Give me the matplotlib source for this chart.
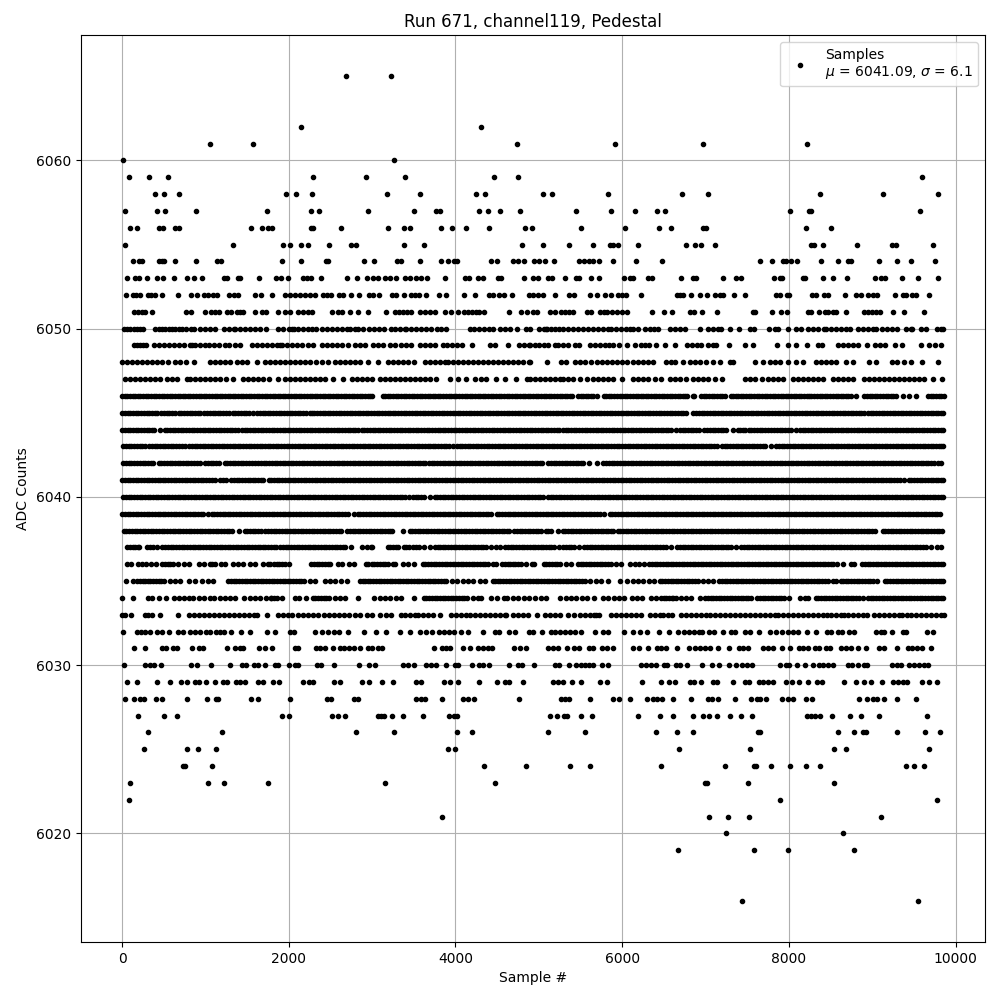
import matplotlib
matplotlib.use("Agg")
import matplotlib.pyplot as plt

adc_6065 = [2690, 3228]
adc_6062 = [2150, 4305]
adc_6061 = [1050, 1576, 4736, 5916, 6970, 8214]
adc_6060 = [8, 3264]
adc_6059 = [80, 320, 547, 2294, 2929, 3395, 4461, 4750, 9603]
adc_6058 = [391, 499, 678, 1971, 2091, 2282, 3180, 3575, 4245, 4353, 5054, 5162, 5832, 6718, 7029, 8370, 9124, 9794]
adc_6057 = [32, 415, 511, 882, 1744, 2270, 2358, 2953, 3503, 3766, 3814, 4281, 4389, 4533, 4772, 5449, 5868, 6156, 6419, 6515, 8011, 8238, 8270, 9579]
adc_6056 = [92, 176, 439, 487, 638, 686, 1552, 1684, 1756, 1803, 2270, 2294, 2629, 3196, 3384, 3455, 3826, 3958, 4126, 4401, 4832, 4923, 5509, 6036, 6443, 6587, 6970, 7005, 8202, 8502]
adc_6055 = [32, 1325, 1935, 2019, 2150, 2234, 2486, 2749, 2809, 3384, 3623, 4796, 5054, 5366, 5653, 5856, 5892, 5952, 6192, 6766, 6874, 6946, 7113, 8262, 8298, 8406, 8813, 9232, 9280, 9735]
adc_6054 = [128, 200, 243, 439, 475, 499, 630, 882, 1133, 1181, 1923, 2150, 2450, 2475, 2905, 3024, 3300, 3348, 3575, 3826, 3910, 3982, 4018, 4425, 4497, 4688, 4748, 4820, 4947, 5006, 5078, 5186, 5485, 5545, 5600, 5653, 5725, 5892, 6168, 6479, 7652, 7796, 7925, 7960, 8023, 8095, 8390, 8585, 8710, 8750, 9076, 9292, 9471, 9758]
adc_6053 = [56, 152, 200, 295, 415, 487, 618, 774, 858, 954, 1217, 1253, 1385, 1410, 1648, 1851, 1911, 1995, 2175, 2222, 2270, 2382, 2701, 2821, 2941, 3012, 3072, 3156, 3216, 3288, 3395, 3455, 3527, 3587, 3659, 3874, 4114, 4162, 4269, 4329, 4509, 4545, 4820, 4935, 4995, 5114, 5162, 5318, 5449, 5485, 5629, 5725, 6024, 6096, 6132, 6311, 6359, 6706, 6850, 6886, 7209, 7365, 7425, 7820, 7892, 7915, 8167, 8191, 8406, 8526, 8693, 9028, 9100, 9148, 9352, 9555, 9794]
adc_6052 = [44, 128, 165, 211, 307, 343, 391, 475, 666, 822, 894, 978, 1025, 1085, 1133, 1277, 1337, 1385, 1600, 1672, 1803, 1959, 2019, 2079, 2139, 2199, 2258, 2318, 2414, 2462, 2510, 2605, 2653, 2749, 2845, 2965, 3012, 3084, 3240, 3288, 3384, 3467, 3515, 3563, 3647, 3802, 3886, 4098, 4233, 4401, 4449, 4521, 4581, 4677, 4880, 4935, 4995, 5054, 5198, 5366, 5425, 5617, 5701, 5797, 5868, 5952, 6000, 6048, 6227, 6658, 6694, 6730, 6826, 6934, 7018, 7113, 7173, 7209, 7341, 7472, 7844, 7892, 7975, 8000, 8274, 8322, 8418, 8466, 8669, 8801, 8861, 8945, 9005, 9052, 9268, 9364, 9400, 9483, 9531, 9687]
adc_6051 = [140, 188, 235, 271, 355, 762, 822, 989, 1061, 1109, 1157, 1253, 1301, 1373, 1420, 1456, 1600, 1684, 1728, 1875, 1959, 2019, 2115, 2175, 2234, 2282, 2522, 2593, 2641, 2737, 2833, 2953, 3168, 3276, 3324, 3372, 3420, 3467, 3575, 3635, 3695, 3755, 3874, 3946, 4030, 4102, 4150, 4198, 4245, 4281, 4341, 4641, 4784, 4856, 4935, 4983, 5138, 5198, 5270, 5318, 5366, 5413, 5581, 5629, 5737, 5785, 5820, 5880, 5940, 6000, 6060, 6359, 6503, 6599, 6814, 6862, 6958, 7137, 7568, 7592, 7796, 7903, 7975, 8226, 8262, 8358, 8430, 8466, 8526, 8562, 8681, 8897, 8945, 8993, 9040, 9088, 9244, 9376, 9627]
adc_6050 = [20, 60, 100, 140, 180, 220, 250, 400, 440, 480, 520, 560, 600, 640, 680, 720, 770, 830, 860, 930, 990, 1050, 1117, 1217, 1280, 1340, 1360, 1420, 1480, 1540, 1600, 1655, 1724, 1875, 1930, 2000, 2035, 2060, 2110, 2170, 2230, 2275, 2330, 2400, 2460, 2520, 2580, 2640, 2693, 2735, 2790, 2830, 2893, 2960, 3020, 3080, 3140, 3230, 3272, 3330, 3395, 3410, 3470, 3530, 3590, 3650, 3710, 3775, 3830, 3890, 4170, 4220, 4280, 4340, 4400, 4450, 4530, 4600, 4650, 4736, 4850, 4895, 5000, 5060, 5080, 5100, 5150, 5190, 5240, 5290, 5350, 5410, 5470, 5530, 5590, 5650, 5710, 5770, 5830, 5870, 5920, 5980, 6040, 6090, 6130, 6190, 6270, 6330, 6380, 6430, 6570, 6630, 6690, 6750, 6930, 7030, 7090, 7150, 7190, 7290, 7400, 7530, 7580, 7760, 7830, 7870, 7990, 8090, 8150, 8230, 8290, 8350, 8420, 8450, 8510, 8570, 8630, 8690, 8730, 8830, 8890, 8950, 9010, 9040, 9120, 9180, 9240, 9300, 9400, 9460, 9480, 9580, 9640, 9780, 9820, 9845]
adc_6049 = [140, 180, 220, 250, 288, 380, 440, 500, 560, 620, 680, 740, 810, 840, 880, 940, 1000, 1040, 1100, 1160, 1240, 1277, 1349, 1409, 1560, 1620, 1680, 1740, 1800, 1860, 1900, 1915, 1975, 2035, 2095, 2155, 2235, 2294, 2400, 2460, 2520, 2580, 2640, 2710, 2790, 2850, 2910, 3010, 3070, 3132, 3212, 3270, 3350, 3410, 3470, 3570, 3630, 3690, 3750, 3850, 3898, 3958, 4018, 4078, 4198, 4417, 4477, 4629, 4760, 4820, 4880, 4895, 4950, 5000, 5060, 5110, 5190, 5230, 5290, 5350, 5430, 5480, 5613, 5673, 5733, 5793, 5840, 5892, 5964, 6052, 6150, 6230, 6275, 6323, 6410, 6515, 6630, 6780, 6840, 6900, 6950, 7030, 7090, 7120, 7280, 7470, 7570, 7855, 7987, 8087, 8214, 8346, 8398, 8590, 8650, 8710, 8770, 8830, 8940, 9030, 9090, 9150, 9270, 9360, 9587, 9680, 9750, 9820]
adc_6048 = [0, 60, 120, 180, 240, 300, 360, 420, 480, 550, 630, 700, 770, 860, 1060, 1120, 1180, 1240, 1300, 1380, 1440, 1500, 1620, 1720, 1780, 1840, 1900, 1960, 2020, 2080, 2140, 2200, 2260, 2330, 2400, 2470, 2555, 2620, 2680, 2740, 2800, 2860, 2950, 3070, 3190, 3250, 3310, 3370, 3430, 3500, 3630, 3690, 3750, 3810, 3870, 3910, 3970, 4030, 4090, 4150, 4210, 4270, 4330, 4390, 4450, 4510, 4570, 4630, 4690, 4750, 4810, 4880, 4895, 5095, 5260, 5325, 5430, 5490, 5550, 5620, 5700, 5760, 5820, 5880, 5940, 6000, 6060, 6132, 6190, 6250, 6310, 6370, 6520, 6580, 6630, 6730, 6810, 6870, 6930, 7005, 7090, 7170, 7290, 7330, 7596, 7690, 7770, 7830, 7890, 7990, 8090, 8170, 8330, 8390, 8450, 8510, 8570, 8690, 8770, 8960, 9040, 9240, 9300, 9380, 9460, 9600, 9785]
adc_6047 = [40, 100, 160, 220, 280, 340, 400, 460, 540, 600, 660, 780, 820, 880, 940, 1000, 1060, 1120, 1180, 1250, 1330, 1456, 1516, 1576, 1636, 1696, 1760, 1876, 1955, 2015, 2075, 2135, 2195, 2255, 2315, 2375, 2435, 2534, 2653, 2753, 2813, 2873, 2933, 2993, 3092, 3152, 3212, 3272, 3332, 3392, 3452, 3512, 3572, 3632, 3695, 3770, 3930, 4030, 4130, 4230, 4310, 4370, 4490, 4590, 4725, 4860, 4895, 4955, 5015, 5075, 5135, 5195, 5255, 5294, 5354, 5414, 5494, 5573, 5653, 5713, 5773, 5833, 5893, 6000, 6132, 6192, 6252, 6312, 6391, 6471, 6571, 6631, 6691, 6771, 6850, 6910, 6970, 7030, 7110, 7202, 7472, 7532, 7592, 7672, 7748, 7808, 7868, 7928, 8047, 8107, 8167, 8227, 8287, 8347, 8407, 8527, 8587, 8647, 8707, 8773, 8897, 8957, 9017, 9077, 9137, 9197, 9257, 9317, 9377, 9437, 9497, 9557, 9627, 9735, 9842]
adc_6046 = [0, 60, 125, 190, 250, 315, 380, 440, 505, 570, 630, 695, 760, 820, 885, 950, 1010, 1075, 1140, 1200, 1265, 1330, 1390, 1455, 1520, 1580, 1645, 1710, 1770, 1835, 1900, 1960, 2025, 2090, 2150, 2215, 2280, 2340, 2405, 2470, 2530, 2595, 2660, 2720, 2785, 2850, 2910, 2975, 3000, 3125, 3190, 3250, 3315, 3380, 3440, 3505, 3570, 3630, 3695, 3760, 3820, 3885, 3950, 4010, 4075, 4140, 4200, 4265, 4330, 4390, 4455, 4520, 4580, 4645, 4710, 4770, 4835, 4900, 4960, 5025, 5090, 5150, 5215, 5280, 5340, 5395, 5470, 5530, 5590, 5650, 5700, 5780, 5840, 5905, 5970, 6030, 6095, 6160, 6220, 6285, 6350, 6410, 6475, 6540, 6600, 6665, 6730, 6775, 6845, 6860, 6950, 7010, 7075, 7140, 7200, 7235, 7300, 7360, 7425, 7490, 7550, 7615, 7680, 7740, 7805, 7870, 7930, 7995, 8060, 8120, 8185, 8240, 8305, 8370, 8430, 8495, 8560, 8620, 8685, 8750, 8800, 8905, 8970, 9030, 9095, 9160, 9220, 9285, 9364, 9443, 9523, 9675, 9735, 9800, 9860]
adc_6045 = [0, 65, 130, 195, 260, 325, 390, 420, 470, 535, 600, 640, 680, 745, 810, 875, 940, 985, 1050, 1115, 1180, 1245, 1285, 1330, 1395, 1460, 1525, 1575, 1620, 1685, 1750, 1815, 1880, 1945, 2010, 2075, 2140, 2205, 2250, 2275, 2340, 2405, 2470, 2535, 2600, 2665, 2730, 2795, 2860, 2925, 2990, 3055, 3120, 3185, 3250, 3315, 3380, 3445, 3510, 3575, 3640, 3705, 3770, 3835, 3900, 3965, 4030, 4095, 4160, 4225, 4290, 4355, 4420, 4485, 4550, 4615, 4680, 4745, 4810, 4875, 4940, 5005, 5070, 5135, 5200, 5265, 5330, 5395, 5460, 5525, 5590, 5655, 5720, 5785, 5850, 5915, 5980, 6045, 6110, 6175, 6240, 6305, 6370, 6400, 6440, 6505, 6570, 6635, 6700, 6765, 6845, 6890, 6955, 7020, 7085, 7150, 7215, 7245, 7280, 7345, 7410, 7475, 7540, 7605, 7670, 7735, 7800, 7865, 7930, 7995, 8060, 8125, 8190, 8255, 8320, 8385, 8450, 8515, 8580, 8645, 8710, 8775, 8840, 8900, 8950, 9015, 9080, 9145, 9210, 9275, 9340, 9405, 9470, 9535, 9600, 9665, 9730, 9795, 9855]
adc_6044 = [0, 65, 130, 195, 260, 325, 385, 455, 510, 575, 640, 705, 770, 835, 900, 965, 1030, 1095, 1160, 1225, 1290, 1355, 1385, 1435, 1500, 1565, 1630, 1695, 1760, 1825, 1890, 1955, 2020, 2085, 2150, 2215, 2280, 2345, 2410, 2475, 2540, 2605, 2670, 2735, 2800, 2825, 2875, 2940, 3005, 3070, 3135, 3200, 3265, 3330, 3395, 3460, 3525, 3590, 3655, 3720, 3785, 3850, 3915, 3980, 4045, 4110, 4175, 4240, 4305, 4370, 4435, 4500, 4565, 4630, 4695, 4760, 4825, 4890, 4955, 5020, 5085, 5150, 5215, 5240, 5290, 5355, 5420, 5485, 5550, 5615, 5680, 5745, 5810, 5875, 5940, 6005, 6070, 6135, 6200, 6265, 6330, 6395, 6460, 6525, 6590, 6645, 6690, 6755, 6820, 6885, 6925, 6985, 7050, 7115, 7180, 7245, 7335, 7385, 7450, 7475, 7520, 7585, 7650, 7715, 7780, 7825, 7890, 7955, 8020, 8080, 8130, 8195, 8260, 8325, 8390, 8455, 8520, 8585, 8650, 8715, 8780, 8845, 8910, 8975, 9040, 9105, 9170, 9235, 9300, 9365, 9430, 9495, 9560, 9625, 9690, 9755, 9820, 9855]
adc_6043 = [15, 80, 145, 210, 275, 325, 390, 455, 520, 585, 650, 715, 750, 805, 870, 935, 1000, 1065, 1130, 1195, 1260, 1325, 1390, 1455, 1520, 1585, 1650, 1715, 1780, 1845, 1910, 1975, 2040, 2105, 2170, 2235, 2300, 2365, 2430, 2495, 2560, 2625, 2690, 2755, 2820, 2885, 2950, 3015, 3080, 3145, 3210, 3275, 3340, 3405, 3470, 3535, 3600, 3665, 3730, 3795, 3860, 3925, 3965, 4015, 4080, 4145, 4210, 4275, 4340, 4405, 4470, 4535, 4600, 4665, 4730, 4795, 4860, 4925, 4990, 5055, 5120, 5185, 5250, 5315, 5380, 5445, 5510, 5575, 5640, 5705, 5770, 5835, 5900, 5965, 6030, 6095, 6160, 6225, 6290, 6355, 6420, 6485, 6550, 6615, 6680, 6745, 6810, 6875, 6940, 7005, 7070, 7135, 7195, 7260, 7325, 7390, 7455, 7520, 7585, 7650, 7715, 7785, 7850, 7915, 7980, 8045, 8110, 8175, 8240, 8305, 8370, 8435, 8500, 8565, 8630, 8695, 8760, 8825, 8890, 8955, 9020, 9085, 9150, 9215, 9280, 9345, 9410, 9475, 9540, 9605, 9670, 9735, 9800, 9855]
adc_6042 = [15, 80, 145, 210, 280, 310, 375, 440, 505, 570, 635, 700, 765, 830, 895, 940, 1000, 1065, 1130, 1165, 1230, 1295, 1360, 1425, 1490, 1555, 1600, 1665, 1730, 1795, 1860, 1925, 1990, 2055, 2120, 2185, 2250, 2315, 2380, 2445, 2510, 2575, 2600, 2665, 2730, 2795, 2860, 2925, 2990, 3055, 3120, 3185, 3250, 3315, 3380, 3445, 3510, 3575, 3640, 3680, 3745, 3810, 3875, 3940, 4005, 4070, 4135, 4200, 4265, 4330, 4395, 4460, 4525, 4590, 4655, 4720, 4785, 4850, 4915, 4980, 5040, 5105, 5145, 5210, 5275, 5340, 5405, 5470, 5535, 5600, 5700, 5775, 5840, 5905, 5970, 6035, 6100, 6165, 6230, 6295, 6360, 6425, 6490, 6555, 6620, 6685, 6750, 6815, 6880, 6945, 7010, 7075, 7140, 7205, 7270, 7335, 7400, 7465, 7530, 7595, 7660, 7725, 7790, 7855, 7920, 7985, 8050, 8115, 8180, 8245, 8310, 8375, 8440, 8505, 8570, 8635, 8700, 8765, 8830, 8895, 8960, 9025, 9090, 9155, 9220, 9285, 9350, 9415, 9480, 9545, 9610, 9675, 9740, 9790, 9830]
adc_6041 = [0, 65, 130, 195, 260, 325, 390, 455, 520, 585, 650, 715, 780, 845, 910, 975, 1040, 1110, 1180, 1245, 1310, 1375, 1440, 1505, 1570, 1635, 1695, 1760, 1825, 1855, 1920, 1985, 2050, 2115, 2180, 2245, 2310, 2375, 2440, 2505, 2570, 2635, 2700, 2765, 2830, 2895, 2960, 3025, 3090, 3155, 3220, 3285, 3350, 3415, 3480, 3545, 3610, 3675, 3740, 3805, 3870, 3935, 4000, 4065, 4130, 4195, 4260, 4325, 4390, 4455, 4520, 4585, 4650, 4715, 4780, 4845, 4910, 4975, 5040, 5105, 5170, 5235, 5300, 5365, 5430, 5495, 5560, 5625, 5690, 5755, 5820, 5885, 5950, 6015, 6080, 6145, 6210, 6275, 6340, 6405, 6470, 6535, 6600, 6665, 6730, 6795, 6860, 6925, 6990, 7055, 7120, 7185, 7250, 7315, 7380, 7445, 7510, 7575, 7640, 7705, 7770, 7835, 7900, 7965, 8030, 8095, 8160, 8225, 8290, 8355, 8420, 8485, 8550, 8615, 8680, 8745, 8810, 8875, 8940, 9005, 9070, 9135, 9200, 9265, 9330, 9380, 9440, 9505, 9570, 9635, 9700, 9765, 9830, 9855]
adc_6040 = [15, 80, 145, 210, 275, 340, 405, 470, 535, 600, 665, 730, 795, 860, 925, 990, 1055, 1120, 1185, 1250, 1315, 1380, 1445, 1510, 1575, 1640, 1705, 1770, 1835, 1900, 1965, 2030, 2095, 2160, 2225, 2290, 2355, 2420, 2485, 2550, 2615, 2680, 2745, 2810, 2875, 2940, 3005, 3070, 3135, 3200, 3265, 3330, 3395, 3445, 3490, 3555, 3620, 3700, 3750, 3815, 3880, 3945, 4010, 4075, 4140, 4205, 4270, 4335, 4400, 4465, 4530, 4595, 4660, 4725, 4790, 4855, 4920, 4985, 5050, 5110, 5175, 5240, 5305, 5370, 5435, 5500, 5565, 5630, 5695, 5760, 5825, 5890, 5955, 6020, 6085, 6150, 6215, 6280, 6345, 6410, 6475, 6540, 6605, 6670, 6735, 6800, 6865, 6930, 6995, 7060, 7125, 7190, 7255, 7320, 7385, 7450, 7515, 7580, 7645, 7710, 7775, 7840, 7905, 7970, 8035, 8100, 8165, 8230, 8295, 8360, 8425, 8490, 8555, 8620, 8685, 8750, 8815, 8880, 8945, 9010, 9075, 9140, 9205, 9270, 9335, 9400, 9465, 9530, 9595, 9660, 9725, 9790, 9855]
adc_6039 = [0, 65, 130, 195, 260, 325, 390, 455, 520, 585, 650, 715, 780, 845, 910, 975, 1030, 1075, 1140, 1205, 1270, 1335, 1400, 1465, 1530, 1595, 1660, 1690, 1730, 1795, 1860, 1925, 1990, 2055, 2120, 2185, 2250, 2315, 2380, 2445, 2510, 2575, 2640, 2705, 2780, 2830, 2895, 2960, 3025, 3090, 3130, 3195, 3260, 3325, 3390, 3455, 3520, 3585, 3650, 3715, 3780, 3845, 3910, 3975, 4040, 4105, 4170, 4235, 4300, 4365, 4425, 4495, 4560, 4625, 4690, 4755, 4820, 4885, 4950, 5015, 5080, 5145, 5210, 5275, 5340, 5405, 5470, 5535, 5600, 5665, 5730, 5780, 5850, 5915, 5980, 6045, 6110, 6175, 6240, 6305, 6370, 6435, 6500, 6565, 6630, 6695, 6760, 6825, 6890, 6955, 7020, 7085, 7150, 7215, 7280, 7345, 7410, 7475, 7540, 7605, 7670, 7735, 7800, 7865, 7930, 7995, 8060, 8125, 8190, 8255, 8320, 8385, 8450, 8515, 8580, 8645, 8710, 8775, 8840, 8905, 8970, 9035, 9100, 9165, 9230, 9295, 9360, 9425, 9490, 9555, 9620, 9685, 9750, 9815]
adc_6038 = [20, 85, 150, 215, 280, 345, 410, 475, 540, 605, 670, 735, 800, 865, 930, 995, 1060, 1125, 1190, 1255, 1320, 1400, 1470, 1535, 1600, 1665, 1715, 1755, 1820, 1885, 1950, 2015, 2080, 2145, 2210, 2275, 2340, 2405, 2470, 2535, 2600, 2625, 2700, 2765, 2830, 2895, 2960, 3025, 3090, 3155, 3220, 3244, 3372, 3450, 3515, 3580, 3645, 3710, 3775, 3840, 3905, 3970, 4035, 4100, 4165, 4230, 4295, 4360, 4425, 4490, 4555, 4620, 4645, 4705, 4770, 4835, 4900, 4965, 5030, 5080, 5140, 5235, 5285, 5350, 5415, 5480, 5545, 5610, 5675, 5740, 5805, 5870, 5890, 5945, 6010, 6075, 6140, 6205, 6270, 6335, 6400, 6465, 6530, 6595, 6660, 6725, 6790, 6855, 6920, 6985, 7050, 7115, 7180, 7245, 7310, 7375, 7440, 7505, 7570, 7635, 7700, 7765, 7830, 7895, 7960, 8025, 8090, 8155, 8220, 8285, 8350, 8415, 8480, 8545, 8610, 8675, 8740, 8805, 8870, 8935, 9000, 9030, 9125, 9190, 9255, 9320, 9385, 9450, 9515, 9580, 9645, 9710, 9775, 9840]
adc_6037 = [60, 125, 185, 205, 295, 365, 420, 480, 550, 615, 680, 745, 810, 875, 940, 1005, 1070, 1135, 1200, 1265, 1330, 1395, 1460, 1525, 1590, 1655, 1720, 1785, 1850, 1900, 1965, 2030, 2095, 2160, 2225, 2290, 2355, 2420, 2485, 2550, 2615, 2680, 2750, 2880, 2935, 2990, 3000, 3190, 3250, 3315, 3380, 3445, 3490, 3560, 3620, 3690, 3755, 3785, 3850, 3915, 3980, 4045, 4110, 4175, 4240, 4305, 4370, 4430, 4485, 4530, 4600, 4665, 4730, 4795, 4860, 4925, 4990, 5055, 5120, 5185, 5240, 5290, 5360, 5425, 5480, 5545, 5610, 5675, 5740, 5805, 5870, 5935, 6000, 6065, 6130, 6195, 6260, 6325, 6390, 6455, 6520, 6590, 6660, 6725, 6790, 6855, 6920, 6985, 7050, 7115, 7180, 7245, 7310, 7365, 7430, 7495, 7560, 7625, 7690, 7755, 7820, 7885, 7950, 8015, 8080, 8145, 8210, 8275, 8340, 8405, 8470, 8535, 8600, 8665, 8730, 8795, 8860, 8925, 8990, 9055, 9120, 9185, 9250, 9315, 9380, 9445, 9510, 9575, 9640, 9700, 9775, 9830]
adc_6036 = [60, 110, 190, 240, 290, 350, 405, 480, 545, 610, 675, 740, 800, 920, 985, 1050, 1110, 1190, 1240, 1335, 1385, 1445, 1535, 1600, 1690, 1755, 1820, 1885, 1950, 2000, 2270, 2335, 2400, 2465, 2495, 2590, 2640, 2720, 2785, 2930, 2995, 3060, 3125, 3190, 3250, 3275, 3370, 3430, 3500, 3610, 3675, 3740, 3805, 3870, 3935, 4000, 4065, 4130, 4195, 4260, 4325, 4390, 4455, 4490, 4555, 4590, 4655, 4720, 4785, 4850, 4915, 4945, 5060, 5125, 5190, 5255, 5320, 5385, 5470, 5535, 5600, 5665, 5730, 5795, 5860, 5925, 5990, 6090, 6155, 6205, 6260, 6325, 6390, 6455, 6520, 6585, 6650, 6715, 6780, 6845, 6910, 6975, 7040, 7105, 7170, 7235, 7300, 7365, 7430, 7495, 7560, 7625, 7690, 7755, 7820, 7885, 7950, 8015, 8080, 8145, 8210, 8275, 8340, 8405, 8470, 8535, 8580, 8645, 8740, 8785, 8880, 8945, 9010, 9075, 9140, 9205, 9270, 9335, 9400, 9465, 9530, 9595, 9660, 9725, 9790, 9855]
adc_6035 = [50, 125, 180, 245, 310, 375, 440, 505, 570, 635, 700, 800, 880, 960, 1025, 1090, 1275, 1340, 1405, 1470, 1535, 1600, 1665, 1730, 1795, 1860, 1925, 1990, 2055, 2120, 2185, 2250, 2315, 2430, 2490, 2560, 2625, 2700, 2850, 2915, 2980, 3045, 3110, 3175, 3240, 3305, 3370, 3435, 3500, 3565, 3630, 3695, 3760, 3825, 3890, 3955, 4020, 4085, 4150, 4210, 4290, 4360, 4445, 4510, 4575, 4640, 4705, 4770, 4835, 4900, 4965, 5030, 5095, 5160, 5225, 5290, 5355, 5420, 5485, 5550, 5615, 5680, 5745, 5830, 5975, 6060, 6125, 6190, 6255, 6320, 6380, 6450, 6515, 6580, 6645, 6710, 6775, 6840, 6905, 6970, 7035, 7090, 7165, 7230, 7295, 7360, 7425, 7490, 7555, 7620, 7685, 7750, 7815, 7880, 7945, 8010, 8075, 8140, 8205, 8270, 8335, 8400, 8465, 8530, 8560, 8620, 8685, 8750, 8815, 8880, 8945, 9010, 9060, 9150, 9215, 9280, 9345, 9410, 9475, 9540, 9605, 9670, 9735, 9800, 9850]
adc_6034 = [0, 128, 310, 360, 440, 530, 625, 685, 745, 800, 855, 920, 985, 1050, 1105, 1170, 1235, 1300, 1360, 1465, 1530, 1595, 1660, 1725, 1790, 1855, 1920, 2075, 2125, 2210, 2290, 2355, 2420, 2485, 2550, 2615, 2680, 2830, 3025, 3090, 3155, 3220, 3285, 3345, 3500, 3620, 3685, 3750, 3815, 3880, 3945, 4010, 4075, 4140, 4205, 4270, 4310, 4430, 4500, 4580, 4620, 4690, 4755, 4820, 4885, 4950, 5020, 5085, 5250, 5320, 5385, 5450, 5515, 5580, 5660, 5770, 5835, 5900, 5965, 6020, 6115, 6180, 6240, 6340, 6405, 6470, 6530, 6595, 6640, 6705, 6770, 6830, 6930, 6995, 7060, 7125, 7190, 7255, 7320, 7385, 7450, 7515, 7550, 7620, 7685, 7750, 7815, 7880, 7945, 8000, 8130, 8195, 8230, 8320, 8385, 8450, 8515, 8580, 8645, 8710, 8775, 8840, 8890, 8950, 9015, 9080, 9145, 9210, 9275, 9340, 9405, 9470, 9535, 9600, 9665, 9730, 9795, 9850]
adc_6033 = [0, 40, 104, 280, 310, 360, 451, 666, 800, 860, 920, 980, 1040, 1100, 1160, 1217, 1277, 1340, 1400, 1460, 1520, 1580, 1615, 1744, 1875, 1930, 1990, 2035, 2115, 2170, 2230, 2290, 2355, 2420, 2480, 2540, 2600, 2660, 2720, 2790, 2855, 2935, 3000, 3090, 3170, 3230, 3350, 3400, 3460, 3510, 3550, 3610, 3670, 3730, 3810, 3950, 4010, 4070, 4130, 4170, 4230, 4290, 4350, 4410, 4470, 4530, 4590, 4610, 4690, 4750, 4810, 4870, 4983, 5075, 5135, 5195, 5254, 5350, 5420, 5490, 5550, 5610, 5660, 5690, 5725, 5870, 5930, 5990, 6050, 6110, 6170, 6230, 6330, 6390, 6450, 6490, 6550, 6600, 6710, 6770, 6830, 6890, 6950, 7010, 7050, 7110, 7170, 7230, 7290, 7350, 7410, 7470, 7530, 7590, 7650, 7710, 7770, 7830, 7870, 7930, 7990, 8050, 8110, 8170, 8230, 8290, 8350, 8410, 8460, 8510, 8570, 8620, 8660, 8710, 8770, 8830, 8890, 8940, 9020, 9080, 9140, 9200, 9260, 9320, 9360, 9420, 9460, 9520, 9580, 9640, 9700, 9760, 9820, 9860]
adc_6032 = [8, 176, 223, 271, 331, 415, 475, 559, 666, 726, 810, 870, 930, 1001, 1049, 1121, 1169, 1217, 1301, 1432, 1540, 1744, 1839, 2019, 2067, 2318, 2402, 2474, 2545, 2605, 2713, 2905, 3048, 3168, 3336, 3455, 3575, 3647, 3719, 3802, 3862, 3922, 3982, 4066, 4150, 4329, 4473, 4521, 4641, 4712, 4880, 4935, 5042, 5150, 5198, 5258, 5318, 5378, 5438, 5509, 5677, 5773, 5832, 6024, 6132, 6215, 6299, 6443, 6563, 6670, 6742, 6802, 6862, 6922, 6958, 7041, 7101, 7209, 7305, 7353, 7472, 7532, 7640, 7772, 7844, 7915, 7987, 8047, 8107, 8214, 8322, 8454, 8502, 8585, 8633, 8717, 8777, 9048, 9108, 9136, 9232, 9364, 9400, 9663, 9735]
adc_6031 = [140, 271, 475, 523, 606, 654, 834, 918, 966, 1253, 1349, 1409, 1456, 1648, 1720, 1803, 2079, 2115, 2330, 2378, 2438, 2534, 2617, 2665, 2725, 2785, 2857, 2953, 3000, 3072, 3120, 3743, 3838, 3886, 3934, 4090, 4174, 4269, 4329, 4389, 4437, 4700, 4772, 4844, 5114, 5174, 5234, 5342, 5425, 5485, 5605, 5653, 5761, 5820, 5892, 6132, 6203, 6311, 6419, 6467, 6527, 6658, 6802, 6874, 6934, 6994, 7053, 7149, 7281, 7400, 7448, 7508, 7688, 7748, 7808, 7915, 8011, 8119, 8167, 8226, 8310, 8358, 8442, 8490, 8621, 8681, 8741, 8825, 8921, 9076, 9136, 9292, 9424, 9483, 9543, 9603, 9711]
adc_6030 = [20, 271, 331, 379, 463, 822, 894, 1061, 1289, 1444, 1492, 1588, 1636, 1720, 1839, 1875, 2007, 2079, 2115, 2342, 2390, 2545, 2845, 2965, 3036, 3372, 3431, 3503, 3647, 3707, 3766, 3886, 3994, 4030, 4198, 4281, 4329, 4401, 4641, 4748, 4796, 4947, 5198, 5246, 5366, 5449, 5509, 5557, 5605, 5653, 5761, 5832, 6227, 6287, 6347, 6407, 6503, 6539, 6646, 6694, 6778, 6958, 7077, 7161, 7281, 7365, 7436, 7496, 7556, 7892, 7963, 8000, 8095, 8191, 8286, 8358, 8406, 8466, 8526, 8705, 8753, 8825, 8897, 8933, 9232, 9292, 9340, 9447, 9507, 9567, 9627, 9675]
adc_6029 = [56, 176, 415, 571, 702, 774, 870, 918, 1001, 1109, 1205, 1253, 1361, 1420, 1480, 1636, 1696, 1815, 1887, 2175, 2246, 2294, 2545, 2617, 2881, 2965, 3120, 3252, 3527, 3587, 3862, 3934, 4030, 4281, 4497, 4592, 4641, 4808, 5174, 5234, 5294, 5402, 5509, 5737, 5820, 6239, 6467, 6563, 6634, 6814, 6862, 6946, 7089, 7137, 7329, 7472, 7520, 7640, 7688, 7748, 7808, 7963, 8035, 8119, 8226, 8334, 8394, 8657, 8801, 8897, 8981, 9112, 9244, 9304, 9364, 9412, 9603, 9687, 9782]
adc_6028 = [32, 140, 211, 259, 403, 475, 774, 1013, 1121, 1145, 1552, 1636, 2019, 2462, 2510, 2785, 2833, 3527, 3587, 3635, 3838, 4090, 4150, 4222, 4760, 5270, 5318, 5366, 5617, 5892, 5964, 6096, 6299, 6371, 6419, 6479, 6610, 6826, 7029, 7077, 7149, 7353, 7544, 7616, 7652, 7724, 7915, 7987, 8047, 8202, 8274, 8837, 8933, 9005, 9052, 9136, 9292, 9531]
adc_6027 = [188, 499, 654, 1923, 2007, 2522, 2593, 2677, 3072, 3108, 3144, 3240, 3372, 3611, 3922, 3982, 4018, 5138, 5222, 5306, 5342, 5509, 5641, 6192, 6455, 6610, 6850, 6970, 7041, 7137, 7293, 7424, 7556, 8214, 8262, 8310, 8370, 8514, 8729, 8861, 9076, 9663]
adc_6026 = [307, 1193, 2809, 3264, 4018, 4198, 5114, 5557, 6407, 6658, 6850, 7628, 7652, 8585, 8777, 8885, 8921, 9292, 9639, 9818]
adc_6025 = [259, 774, 906, 1121, 3910, 3994, 6682, 7532, 8538, 8681, 9687]
adc_6024 = [734, 750, 1077, 4341, 4844, 5378, 5617, 6467, 7233, 7576, 7600, 7784, 8011, 8202, 8370, 9400, 9507, 9627]
adc_6023 = [92, 1025, 1217, 1756, 3156, 4473, 6997, 7021, 7508, 8538]
adc_6022 = [80, 7891, 9782]
adc_6021 = [3838, 7041, 7269, 7520, 9100]
adc_6020 = [7245, 8645]
adc_6019 = [6670, 7580, 7987, 8777]
adc_6016 = [7436, 9555]

more_6046 = [30, 95, 160, 220, 285, 350, 410, 475, 540, 600, 665, 730, 790, 855, 920, 980, 1045, 1110, 1170, 1235, 1300, 1360, 1425, 1490, 1550, 1615, 1680, 1740, 1805, 1870, 1930, 1995, 2060, 2120, 2185, 2250, 2310, 2375, 2440, 2500, 2565, 2630, 2690, 2755, 2820, 2880, 2945, 3155, 3220, 3285, 3350, 3410, 3475, 3540, 3600, 3665, 3730, 3790, 3855, 3920, 3980, 4045, 4110, 4170, 4235, 4300, 4360, 4425, 4490, 4550, 4615, 4680, 4740, 4805, 4870, 4930, 4995, 5060, 5120, 5185, 5250, 5310, 5370, 5500, 5560, 5620, 5810, 5870, 5935, 6000, 6060, 6125, 6190, 6250, 6315, 6380, 6440, 6505, 6570, 6630, 6695, 6750, 6980, 7040, 7105, 7170, 7330, 7390, 7455, 7520, 7580, 7645, 7710, 7770, 7835, 7900, 7960, 8025, 8090, 8150, 8215, 8270, 8335, 8400, 8460, 8525, 8590, 8650, 8715, 8935, 9000, 9060, 9125, 9190, 9250, 9705, 9770, 9830]
more_6045 = [35, 100, 165, 230, 295, 360, 500, 565, 710, 775, 840, 905, 1020, 1085, 1150, 1215, 1360, 1425, 1490, 1650, 1715, 1780, 1845, 1910, 1975, 2040, 2105, 2170, 2305, 2370, 2435, 2500, 2565, 2630, 2695, 2760, 2825, 2890, 2955, 3020, 3085, 3150, 3215, 3280, 3345, 3410, 3475, 3540, 3605, 3670, 3735, 3800, 3865, 3930, 3995, 4060, 4125, 4190, 4255, 4320, 4385, 4450, 4515, 4580, 4645, 4710, 4775, 4840, 4905, 4970, 5035, 5100, 5165, 5230, 5295, 5360, 5425, 5490, 5555, 5620, 5685, 5750, 5815, 5880, 5945, 6010, 6075, 6140, 6205, 6270, 6335, 6470, 6535, 6600, 6665, 6730, 6920, 6985, 7050, 7115, 7180, 7310, 7375, 7440, 7505, 7570, 7635, 7700, 7765, 7830, 7895, 7960, 8025, 8090, 8155, 8220, 8285, 8350, 8415, 8480, 8545, 8610, 8675, 8740, 8805, 8870, 8985, 9050, 9115, 9180, 9245, 9310, 9375, 9440, 9505, 9570, 9635, 9700, 9765, 9825]
more_6044 = [35, 100, 165, 230, 295, 355, 540, 605, 670, 735, 800, 865, 930, 995, 1060, 1125, 1190, 1255, 1320, 1470, 1535, 1600, 1665, 1730, 1795, 1860, 1925, 1990, 2055, 2120, 2185, 2250, 2315, 2380, 2445, 2510, 2575, 2640, 2705, 2770, 2905, 2970, 3035, 3100, 3165, 3230, 3295, 3360, 3425, 3490, 3555, 3620, 3685, 3750, 3815, 3880, 3945, 4010, 4075, 4140, 4205, 4270, 4335, 4400, 4465, 4530, 4595, 4660, 4725, 4790, 4855, 4920, 4985, 5050, 5115, 5180, 5320, 5385, 5450, 5515, 5580, 5645, 5710, 5775, 5840, 5905, 5970, 6035, 6100, 6165, 6230, 6295, 6360, 6425, 6490, 6555, 6725, 6790, 6850, 7020, 7085, 7150, 7215, 7415, 7550, 7615, 7680, 7745, 7855, 7920, 7985, 8165, 8230, 8295, 8360, 8425, 8490, 8555, 8620, 8685, 8750, 8815, 8880, 8945, 9010, 9075, 9140, 9205, 9270, 9335, 9400, 9465, 9530, 9595, 9660, 9725, 9790]
more_6043 = [45, 110, 175, 240, 355, 420, 485, 550, 615, 680, 835, 900, 965, 1030, 1095, 1160, 1225, 1290, 1355, 1420, 1485, 1550, 1615, 1680, 1745, 1810, 1875, 1940, 2005, 2070, 2135, 2200, 2265, 2330, 2395, 2460, 2525, 2590, 2655, 2720, 2785, 2850, 2915, 2980, 3045, 3110, 3175, 3240, 3305, 3370, 3435, 3500, 3565, 3630, 3695, 3760, 3825, 3890, 4050, 4115, 4180, 4245, 4310, 4375, 4440, 4505, 4570, 4635, 4700, 4765, 4830, 4895, 4960, 5025, 5090, 5155, 5220, 5285, 5350, 5415, 5480, 5545, 5610, 5675, 5740, 5805, 5870, 5935, 6000, 6065, 6130, 6195, 6260, 6325, 6390, 6455, 6520, 6585, 6650, 6715, 6780, 6845, 6910, 6975, 7040, 7105, 7230, 7295, 7360, 7425, 7490, 7555, 7620, 7685, 7880, 7945, 8010, 8075, 8140, 8205, 8270, 8335, 8400, 8465, 8530, 8595, 8660, 8725, 8790, 8855, 8920, 8985, 9050, 9115, 9180, 9245, 9310, 9375, 9440, 9505, 9570, 9635, 9700, 9765, 9830]
more_6042 = [45, 110, 175, 245, 345, 470, 535, 600, 665, 730, 795, 860, 1030, 1095, 1260, 1325, 1390, 1455, 1520, 1635, 1700, 1765, 1830, 1895, 1960, 2025, 2090, 2155, 2220, 2285, 2350, 2415, 2480, 2545, 2635, 2700, 2765, 2830, 2895, 2960, 3025, 3090, 3155, 3220, 3285, 3350, 3415, 3480, 3545, 3610, 3715, 3780, 3845, 3910, 3975, 4040, 4105, 4170, 4235, 4300, 4365, 4430, 4495, 4560, 4625, 4690, 4755, 4820, 4885, 4950, 5010, 5180, 5245, 5310, 5375, 5440, 5505, 5810, 5875, 5940, 6005, 6070, 6135, 6200, 6265, 6330, 6395, 6460, 6525, 6590, 6655, 6720, 6785, 6850, 6915, 6980, 7045, 7110, 7175, 7240, 7305, 7370, 7435, 7500, 7565, 7630, 7695, 7760, 7825, 7890, 7955, 8020, 8085, 8150, 8215, 8280, 8345, 8410, 8475, 8540, 8605, 8670, 8735, 8800, 8865, 8930, 8995, 9060, 9125, 9190, 9255, 9320, 9385, 9450, 9515, 9580, 9645, 9710]
more_6041 = [35, 100, 165, 230, 295, 360, 425, 490, 555, 620, 685, 750, 815, 880, 945, 1010, 1075, 1210, 1340, 1405, 1470, 1535, 1600, 1665, 1790, 1885, 1950, 2015, 2080, 2145, 2210, 2275, 2340, 2405, 2470, 2535, 2600, 2665, 2730, 2795, 2860, 2925, 2990, 3055, 3120, 3185, 3250, 3315, 3380, 3445, 3510, 3575, 3640, 3705, 3770, 3835, 3900, 3965, 4030, 4095, 4160, 4225, 4290, 4355, 4420, 4485, 4550, 4615, 4680, 4745, 4810, 4875, 4940, 5005, 5070, 5135, 5200, 5265, 5330, 5395, 5460, 5525, 5590, 5655, 5720, 5785, 5850, 5915, 5980, 6045, 6110, 6175, 6240, 6305, 6370, 6435, 6500, 6565, 6630, 6695, 6760, 6825, 6890, 6955, 7020, 7085, 7150, 7215, 7280, 7345, 7410, 7475, 7540, 7605, 7670, 7735, 7800, 7865, 7930, 7995, 8060, 8125, 8190, 8255, 8320, 8385, 8450, 8515, 8580, 8645, 8710, 8775, 8840, 8905, 8970, 9035, 9100, 9165, 9230, 9295, 9470, 9535, 9600, 9665, 9730, 9795]
more_6040 = [45, 110, 175, 240, 305, 370, 435, 500, 565, 630, 695, 760, 825, 890, 955, 1020, 1085, 1150, 1215, 1280, 1345, 1410, 1475, 1540, 1605, 1670, 1735, 1800, 1865, 1930, 1995, 2060, 2125, 2190, 2255, 2320, 2385, 2450, 2515, 2580, 2645, 2710, 2775, 2840, 2905, 2970, 3035, 3100, 3165, 3230, 3295, 3360, 3525, 3590, 3780, 3845, 3910, 3975, 4040, 4105, 4170, 4235, 4300, 4365, 4430, 4495, 4560, 4625, 4690, 4755, 4820, 4885, 4950, 5015, 5140, 5205, 5270, 5335, 5400, 5465, 5530, 5595, 5660, 5725, 5790, 5855, 5920, 5985, 6050, 6115, 6180, 6245, 6310, 6375, 6440, 6505, 6570, 6635, 6700, 6765, 6830, 6895, 6960, 7025, 7090, 7155, 7220, 7285, 7350, 7415, 7480, 7545, 7610, 7675, 7740, 7805, 7870, 7935, 8000, 8065, 8130, 8195, 8260, 8325, 8390, 8455, 8520, 8585, 8650, 8715, 8780, 8845, 8910, 8975, 9040, 9105, 9170, 9235, 9300, 9365, 9430, 9495, 9560, 9625, 9690, 9755, 9820]
more_6039 = [35, 100, 165, 230, 295, 360, 425, 490, 555, 620, 685, 750, 815, 880, 945, 1105, 1170, 1235, 1300, 1365, 1430, 1495, 1560, 1625, 1760, 1825, 1890, 1955, 2020, 2085, 2150, 2215, 2280, 2345, 2410, 2475, 2540, 2605, 2670, 2860, 2925, 2990, 3055, 3160, 3225, 3290, 3355, 3420, 3485, 3550, 3615, 3680, 3745, 3810, 3875, 3940, 4005, 4070, 4135, 4200, 4265, 4330, 4395, 4525, 4590, 4655, 4720, 4785, 4850, 4915, 4980, 5045, 5110, 5175, 5240, 5305, 5370, 5435, 5500, 5565, 5630, 5695, 5880, 5945, 6010, 6075, 6140, 6205, 6270, 6335, 6400, 6465, 6530, 6595, 6660, 6725, 6790, 6855, 6920, 6985, 7050, 7115, 7180, 7245, 7310, 7375, 7440, 7505, 7570, 7635, 7700, 7765, 7830, 7895, 7960, 8025, 8090, 8155, 8220, 8285, 8350, 8415, 8480, 8545, 8610, 8675, 8740, 8805, 8870, 8935, 9000, 9065, 9130, 9195, 9260, 9325, 9390, 9455, 9520, 9585, 9650, 9715, 9780]
more_6038 = [50, 115, 180, 245, 310, 375, 440, 505, 570, 635, 700, 765, 830, 895, 960, 1025, 1090, 1155, 1220, 1285, 1500, 1565, 1630, 1785, 1850, 1915, 1980, 2045, 2110, 2175, 2240, 2305, 2370, 2435, 2500, 2565, 2730, 2795, 2860, 2925, 2990, 3055, 3120, 3185, 3480, 3545, 3610, 3675, 3740, 3805, 3870, 3935, 4000, 4065, 4130, 4195, 4260, 4325, 4390, 4455, 4520, 4585, 4735, 4800, 4865, 4930, 4995, 5110, 5315, 5380, 5445, 5510, 5575, 5640, 5705, 5770, 5835, 5975, 6040, 6105, 6170, 6235, 6300, 6365, 6430, 6495, 6560, 6625, 6690, 6755, 6820, 6885, 6950, 7015, 7080, 7145, 7210, 7275, 7340, 7405, 7470, 7535, 7600, 7665, 7730, 7795, 7860, 7925, 7990, 8055, 8120, 8185, 8250, 8315, 8380, 8445, 8510, 8575, 8640, 8705, 8770, 8835, 8900, 8965, 9155, 9220, 9285, 9350, 9415, 9480, 9545, 9610, 9675, 9740, 9805]
more_6037 = [90, 155, 330, 520, 585, 650, 715, 780, 845, 910, 975, 1040, 1105, 1170, 1235, 1300, 1365, 1430, 1495, 1560, 1625, 1690, 1755, 1820, 1930, 1995, 2060, 2125, 2190, 2255, 2320, 2385, 2450, 2515, 2580, 2645, 3215, 3285, 3410, 3525, 3815, 3880, 3945, 4010, 4075, 4140, 4205, 4270, 4335, 4630, 4695, 4760, 4825, 4890, 4955, 5020, 5085, 5150, 5325, 5390, 5575, 5640, 5705, 5770, 5835, 5900, 5965, 6030, 6095, 6160, 6225, 6290, 6355, 6420, 6485, 6690, 6755, 6820, 6885, 6950, 7015, 7080, 7145, 7210, 7275, 7460, 7525, 7590, 7655, 7720, 7785, 7850, 7915, 7980, 8045, 8110, 8175, 8240, 8305, 8370, 8435, 8500, 8565, 8630, 8695, 8760, 8825, 8890, 8955, 9020, 9085, 9150, 9215, 9280, 9345, 9410, 9475, 9540, 9605]
more_6036 = [510, 575, 1080, 1775, 1855, 1920, 2300, 2365, 2430, 2950, 3025, 3090, 3155, 3640, 3705, 3770, 3835, 3900, 3965, 4030, 4095, 4160, 4225, 4290, 4355, 4625, 4690, 4755, 5090, 5155, 5220, 5500, 5565, 5630, 5695, 5760, 5825, 6355, 6420, 6485, 6550, 6615, 6680, 6745, 6810, 6875, 6940, 7005, 7070, 7135, 7200, 7265, 7330, 7395, 7460, 7525, 7590, 7655, 7720, 7785, 7850, 7915, 7980, 8045, 8110, 8175, 8240, 8305, 8370, 8435, 8500, 8910, 8975, 9040, 9105, 9170, 9235, 9300, 9365, 9430, 9495, 9560, 9625, 9690, 9755, 9820]
more_6035 = [210, 275, 340, 405, 470, 1305, 1370, 1435, 1500, 1565, 1630, 1695, 1760, 1825, 1890, 1955, 2020, 2085, 2150, 2885, 2950, 3015, 3080, 3145, 3210, 3275, 3340, 3405, 3470, 3535, 3600, 3665, 3730, 3795, 3860, 4475, 4540, 4605, 4670, 4735, 4800, 4865, 4930, 4995, 5060, 5125, 5190, 5255, 5320, 5385, 5450, 5515, 6480, 6545, 6610, 6675, 6740, 6805, 6870, 7195, 7260, 7325, 7390, 7455, 7520, 7585, 7650, 7715, 7780, 7845, 7910, 7975, 8040, 8105, 8170, 8235, 8300, 8365, 8430, 8650, 8715, 8780, 8845, 8910, 8975, 9180, 9245, 9310, 9375, 9440, 9505, 9570, 9635, 9700, 9765, 9825]
more_6034 = [1785, 1820, 2320, 2385, 2450, 3650, 3715, 3780, 3845, 3910, 3975, 4040, 4105, 6500, 6565, 6610, 7030, 7095, 7160, 7225, 7290, 7355, 7420, 7485, 7650, 7715, 7780, 7845, 7910, 8355, 8420, 8485, 8550, 8615, 8680, 8745, 8810, 8985, 9050, 9115, 9180, 9245, 9310, 9375, 9440, 9505, 9570, 9635, 9700, 9765, 9825]

levels = [6065, 6062, 6061, 6060, 6059, 6058, 6057, 6056, 6055, 6054, 6053, 6052, 6051, 6050,
          6049, 6048, 6047, 6046, 6045, 6044, 6043, 6042, 6041, 6040, 6039, 6038, 6037, 6036,
          6035, 6034, 6033, 6032, 6031, 6030, 6029, 6028, 6027, 6026, 6025, 6024, 6023, 6022,
          6021, 6020, 6019, 6016,
          6046, 6045, 6044, 6043, 6042, 6041, 6040, 6039, 6038, 6037, 6036, 6035, 6034]
rows = [adc_6065, adc_6062, adc_6061, adc_6060, adc_6059, adc_6058, adc_6057, adc_6056, adc_6055,
        adc_6054, adc_6053, adc_6052, adc_6051, adc_6050, adc_6049, adc_6048, adc_6047, adc_6046,
        adc_6045, adc_6044, adc_6043, adc_6042, adc_6041, adc_6040, adc_6039, adc_6038, adc_6037,
        adc_6036, adc_6035, adc_6034, adc_6033, adc_6032, adc_6031, adc_6030, adc_6029, adc_6028,
        adc_6027, adc_6026, adc_6025, adc_6024, adc_6023, adc_6022, adc_6021, adc_6020, adc_6019,
        adc_6016,
        more_6046, more_6045, more_6044, more_6043, more_6042, more_6041, more_6040, more_6039,
        more_6038, more_6037, more_6036, more_6035, more_6034]

sample_index = []
adc_counts = []
for level, row in zip(levels, rows):
    sample_index.extend(row)
    adc_counts.extend([level] * len(row))

fig, ax = plt.subplots(figsize=(10, 10), dpi=100)
ax.plot(sample_index, adc_counts, "k.", label="Samples\n$\\mu$ = 6041.09, $\\sigma$ = 6.1")
ax.set_title("Run 671, channel119, Pedestal")
ax.set_xlabel("Sample #")
ax.set_ylabel("ADC Counts")
ax.grid(True)
ax.legend(loc="upper right")
fig.subplots_adjust(left=0.081, right=0.985, top=0.965, bottom=0.058)
fig.savefig("out.png", dpi=100)
